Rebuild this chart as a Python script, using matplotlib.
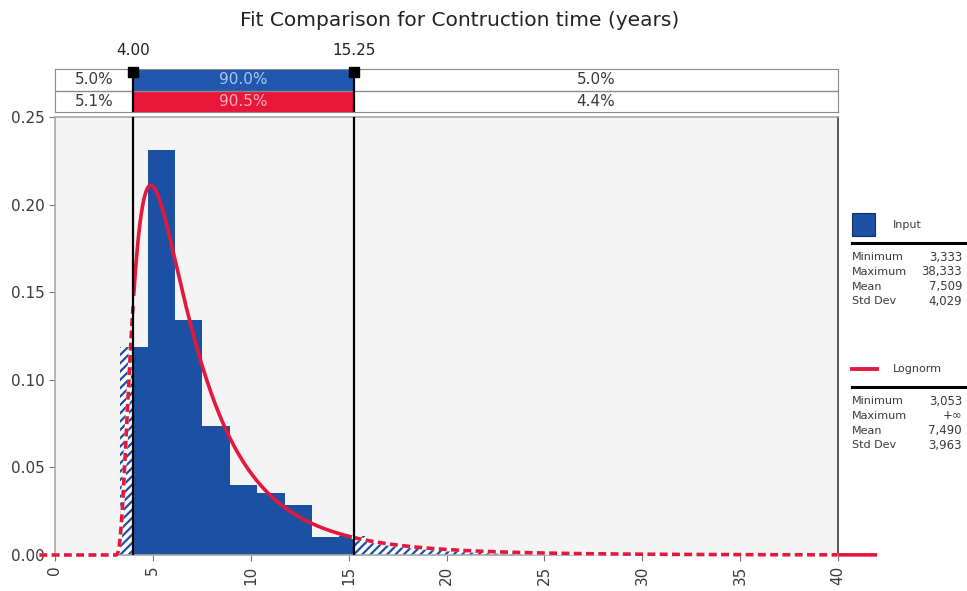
import numpy as np
import matplotlib.pyplot as plt
from matplotlib.patches import Rectangle
from matplotlib.lines import Line2D

# --- Input sample histogram: 25 equal bins between sample min and max (density) ---
input_min, input_max = 3.333, 38.333
input_density = [0.119, 0.231, 0.134, 0.0734, 0.040, 0.0353, 0.0286, 0.0102, 0.0108,
                 0.007, 0.005, 0.0035, 0.003, 0.002, 0.0015, 0.0012, 0.001, 0.0008,
                 0.0008, 0.0003, 0.0, 0.0, 0.0, 0.0, 0.0005]

# --- Shifted lognormal fit ---
fit_shift = 3.053
fit_mean = 7.490
fit_std = 3.963

# --- Delimiters and probabilities ---
lower, upper = 4.00, 15.25
input_pcts = ['5.0%', '90.0%', '5.0%']
fit_pcts = ['5.1%', '90.5%', '4.4%']

input_stats = [('Minimum', '3,333'), ('Maximum', '38,333'), ('Mean', '7,509'), ('Std Dev', '4,029')]
fit_stats = [('Minimum', '3,053'), ('Maximum', '+\u221e'), ('Mean', '7,490'), ('Std Dev', '3,963')]

x_ticks = [0, 5, 10, 15, 20, 25, 30, 35, 40]
y_ticks = [0.00, 0.05, 0.10, 0.15, 0.20, 0.25]

BLUE = '#1c50a2'
RED = '#e4183c'
TXT = '#3a3a3a'

plt.rcParams['font.family'] = 'DejaVu Sans'
plt.rcParams['hatch.linewidth'] = 1.6


def lognorm_pdf(x):
    m = fit_mean - fit_shift
    s2 = np.log(1 + (fit_std / m) ** 2)
    mu = np.log(m) - s2 / 2
    z = np.clip(x - fit_shift, 1e-9, None)
    pdf = np.exp(-(np.log(z) - mu) ** 2 / (2 * s2)) / (z * np.sqrt(2 * np.pi * s2))
    return np.where(x > fit_shift, pdf, 0.0)


W, H = 967, 591
fig = plt.figure(figsize=(W / 100, H / 100), dpi=100)

def fx(px):
    return px / W

def fy(py):
    return 1 - py / H

ax = fig.add_axes([fx(55), fy(555), fx(838) - fx(55), fy(117) - fy(555)])
band = fig.add_axes([fx(55), fy(112), fx(838) - fx(55), fy(69) - fy(112)])

# --- main plot area ---
ax.set_facecolor('#f4f4f4')
ax.set_xlim(0, 40)
ax.set_ylim(0, 0.25)

edges = np.linspace(input_min, input_max, len(input_density) + 1)
for lo, hi, h in zip(edges[:-1], edges[1:], input_density):
    if h <= 0:
        continue
    parts = [(lo, min(hi, lower), False), (max(lo, lower), min(hi, upper), True),
             (max(lo, upper), hi, False)]
    for a, b, inside in parts:
        if b <= a:
            continue
        if inside:
            ax.bar(a, h, b - a, align='edge', color=BLUE, linewidth=0, zorder=2)
        else:
            ax.bar(a, h, b - a, align='edge', facecolor='white', edgecolor=BLUE,
                   hatch='////', linewidth=0, zorder=2)

# fitted curve: solid inside the delimiters, dashed outside
xs = np.linspace(-0.8, 42.0, 2000)
ys = lognorm_pdf(xs)
segs = [(xs <= lower, False), ((xs >= lower) & (xs <= upper), True),
        ((xs >= upper) & (xs <= 40), False), (xs >= 40, True)]
for mask, solid in segs:
    if solid:
        ax.plot(xs[mask], ys[mask], color=RED, lw=2.6, zorder=4, clip_on=False,
                solid_capstyle='butt')
    else:
        ax.plot(xs[mask], ys[mask], color='white', lw=2.6, zorder=4, clip_on=False)
        ax.plot(xs[mask], ys[mask], color=RED, lw=2.6, zorder=5, clip_on=False,
                dashes=(2.2, 1.2))

for v in (lower, upper):
    ax.axvline(v, color='black', lw=1.6, zorder=6)

ax.set_xticks(x_ticks)
ax.set_xticklabels([str(t) for t in x_ticks], rotation=90)
ax.set_yticks(y_ticks)
ax.set_yticklabels([f'{t:.2f}' for t in y_ticks])
ax.tick_params(axis='both', colors='#777777', labelcolor=TXT, labelsize=11, length=4)
for side in ('left', 'top', 'bottom'):
    ax.spines[side].set_color('#a8a8a8')
    ax.spines[side].set_linewidth(1.2)
ax.spines['right'].set_color('#555555')
ax.spines['right'].set_linewidth(1.4)

# --- probability band above the plot ---
band.set_xlim(0, 40)
band.set_ylim(0, 2)
band.set_xticks([])
band.set_yticks([])
for s in band.spines.values():
    s.set_color('#8a8a8a')
band.add_patch(Rectangle((lower, 1), upper - lower, 1, facecolor='#2257ae', edgecolor='none'))
band.add_patch(Rectangle((lower, 0), upper - lower, 1, facecolor='#e8173a', edgecolor='none'))
band.axhline(1, color='#8a8a8a', lw=1)
for v in (lower, upper):
    band.axvline(v, color='black', lw=1.6)

mids = [lower / 2, (lower + upper) / 2, (upper + 40) / 2]
for i, (a, b) in enumerate(zip(input_pcts, fit_pcts)):
    c_top = '#a9c6f0' if i == 1 else TXT
    c_bot = '#fbb0bb' if i == 1 else TXT
    band.text(mids[i], 1.5, a, ha='center', va='center', fontsize=11, color=c_top)
    band.text(mids[i], 0.5, b, ha='center', va='center', fontsize=11, color=c_bot)

band.plot([lower, upper], [1.85, 1.85], 's', color='black', ms=7, clip_on=False, zorder=8)
band.text(lower, 2.5, f'{lower:.2f}', ha='center', va='bottom', fontsize=11, color='#222222')
band.text(upper, 2.5, f'{upper:.2f}', ha='center', va='bottom', fontsize=11, color='#222222')

fig.text(fx(460), fy(20), 'Fit Comparison for Contruction time (years)', ha='center',
         va='center', fontsize=14.5, color='#222222')

# --- legend / statistics panel on the right ---
def stats_block(y_head, stats, swatch):
    if swatch == 'box':
        fig.patches.append(Rectangle((fx(852), fy(y_head + 11)), fx(23), fy(0) - fy(23),
                                     transform=fig.transFigure, facecolor=BLUE,
                                     edgecolor='#0d2f66', lw=0.8))
        label = 'Input'
    else:
        fig.lines.append(Line2D([fx(852), fx(877)], [fy(y_head), fy(y_head)],
                                transform=fig.transFigure, color=RED, lw=2.8))
        label = 'Lognorm'
    fig.text(fx(893), fy(y_head), label, ha='left', va='center', fontsize=8, color=TXT)
    y_line = y_head + 18
    fig.lines.append(Line2D([fx(852), fx(965)], [fy(y_line), fy(y_line)],
                            transform=fig.transFigure, color='black', lw=2.2))
    for k, (name, val) in enumerate(stats):
        yy = y_line + 14 + k * 14.8
        fig.text(fx(852), fy(yy), name, ha='left', va='center', fontsize=8, color=TXT)
        fig.text(fx(962), fy(yy), val, ha='right', va='center', fontsize=8.5, color=TXT)

stats_block(225, input_stats, 'box')
stats_block(369, fit_stats, 'line')

fig.savefig('out.png', dpi=100)
